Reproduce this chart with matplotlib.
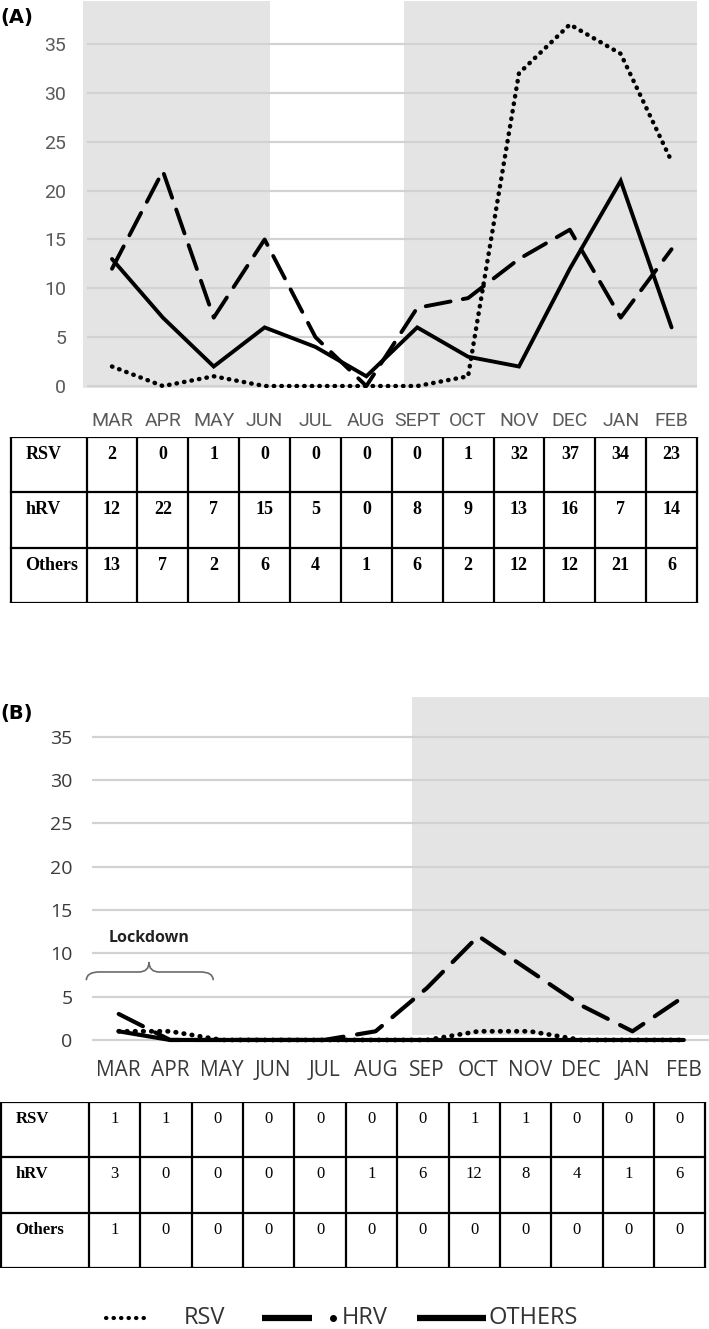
import numpy as np
import matplotlib.pyplot as plt
from matplotlib.path import Path
from matplotlib.patches import PathPatch

# ---- data -------------------------------------------------------------
months_a = ['MAR', 'APR', 'MAY', 'JUN', 'JUL', 'AUG', 'SEPT', 'OCT', 'NOV', 'DEC', 'JAN', 'FEB']
months_b = ['MAR', 'APR', 'MAY', 'JUN', 'JUL', 'AUG', 'SEP', 'OCT', 'NOV', 'DEC', 'JAN', 'FEB']
row_names = ['RSV', 'hRV', 'Others']

# panel A, table values
rsv_a = [2, 0, 1, 0, 0, 0, 0, 1, 32, 37, 34, 23]
hrv_a = [12, 22, 7, 15, 5, 0, 8, 9, 13, 16, 7, 14]
others_a = [13, 7, 2, 6, 4, 1, 6, 2, 12, 12, 21, 6]
# panel A, "Others" as drawn in the chart (differs from the table)
others_a_line = [13, 7, 2, 6, 4, 1, 6, 3, 2, 12, 21, 6]

# panel B, table values
rsv_b = [1, 1, 0, 0, 0, 0, 0, 1, 1, 0, 0, 0]
hrv_b = [3, 0, 0, 0, 0, 1, 6, 12, 8, 4, 1, 6]
others_b = [1, 0, 0, 0, 0, 0, 0, 0, 0, 0, 0, 0]
# panel B, hRV as drawn in the chart
hrv_b_line = [3, 0, 0, 0, 0, 1, 6, 12, 8, 4, 1, 5]

yticks = [0, 5, 10, 15, 20, 25, 30, 35]

# ---- figure -----------------------------------------------------------
W, H = 709, 1329
fig = plt.figure(figsize=(W / 100, H / 100), dpi=100)

GRAY_BAND = '#e4e4e4'
GRID = '#d2d2d2'
TICK = '#5a5a5a'
DOTS = (0, (0.1, 1.6))


def fig_ax(left, top, right, bottom):
    # axes from pixel box
    return fig.add_axes([left / W, 1 - bottom / H, (right - left) / W, (bottom - top) / H])


def style_lines(ax, x, rsv, hrv, oth, lw, dash):
    ax.plot(x, rsv, color='black', lw=lw * 1.15, linestyle=DOTS,
            dash_capstyle='round', zorder=4)
    ax.plot(x, hrv, color='black', lw=lw, linestyle=(0, dash), dash_capstyle='round', zorder=5)
    ax.plot(x, oth, color='black', lw=lw, solid_capstyle='round', solid_joinstyle='miter', zorder=6)


def draw_table(tax, values, offset, bold_vals, fs):
    n = len(values[0])
    edges = np.arange(n + 1) - 0.5 + offset
    for e in edges:
        tax.plot([e, e], [0, 3], color='black', lw=1.6, solid_capstyle='butt')
    tax.plot([tax.table_left, tax.table_left], [0, 3], color='black', lw=1.6)
    for r in range(4):
        tax.plot([tax.table_left, edges[-1]], [r, r], color='black', lw=1.6)
    for r, (name, row) in enumerate(zip(row_names, values)):
        tax.text(tax.table_left + 0.28, r + 0.16, name, ha='left', va='top',
                 family='Liberation Serif', fontweight='bold', fontsize=fs)
        for i, v in enumerate(row):
            tax.text(i + offset, r + 0.16, str(v), ha='center', va='top',
                     family='Liberation Serif', fontsize=fs,
                     fontweight='bold' if bold_vals else 'normal')


# ---- panel A ------------------------------------------------------------
xa = np.arange(len(months_a))
axA = fig_ax(83, 1, 697, 388)
axA.set_xlim(-0.57, 11.5)
axA.set_ylim(-0.2, 39.4)
axA.axvspan(-0.57, 3.1, color=GRAY_BAND, lw=0, zorder=0)
axA.axvspan(5.75, 11.5, color=GRAY_BAND, lw=0, zorder=0)
axA.hlines(yticks, -0.5, 11.5, color=GRID, lw=1.6, zorder=1)
style_lines(axA, xa, rsv_a, hrv_a, others_a_line, 2.8, (6.5, 3.2))
axA.set_xticks(xa)
axA.set_xticklabels(months_a, family='Roboto', fontsize=14, color=TICK)
axA.set_yticks(yticks)
axA.set_yticklabels([str(t) for t in yticks], family='Roboto', fontsize=14, color=TICK)
axA.tick_params(length=0)
axA.tick_params(axis='x', pad=17)
axA.tick_params(axis='y', pad=12)
for s in axA.spines.values():
    s.set_visible(False)
axA.patch.set_alpha(0)

# table A: same x scale as panel A
pxA = (697 - 83) / (11.5 + 0.57)
tA = fig_ax(0, 437, W, 603)
tA.set_xlim(-0.57 - 83 / pxA, -0.57 + (W - 83) / pxA)
tA.set_ylim(3, 0)
tA.table_left = -0.57 + (11 - 83) / pxA
tA.axis('off')
draw_table(tA, [rsv_a, hrv_a, others_a], 0.0, True, 13)

fig.text(0 / W, 1 - 18 / H, '(A)', fontsize=14, fontweight='bold', va='center', ha='left')

# ---- panel B ------------------------------------------------------------
xb = np.arange(len(months_b))
axB = fig_ax(92, 697, W, 1043)
axB.set_xlim(-0.52, 11.49)
axB.set_ylim(-0.35, 39.6)
axB.axvspan(5.71, 11.49, ymin=(0.6 + 0.35) / 39.95, ymax=1, color=GRAY_BAND, lw=0, zorder=0)
axB.hlines(yticks, -0.52, 11.49, color=GRID, lw=1.6, zorder=1)
style_lines(axB, xb, rsv_b, hrv_b_line, others_b, 3.0, (6.5, 3.3))
axB.set_xticks(xb)
axB.set_xticklabels(months_b, family='Open Sans', fontsize=15, color='#3a3a3a')
axB.set_yticks(yticks)
axB.set_yticklabels([str(t) for t in yticks], family='Open Sans', fontsize=14, color='#3a3a3a')
axB.tick_params(length=0)
axB.tick_params(axis='x', pad=12)
axB.tick_params(axis='y', pad=14)
for s in axB.spines.values():
    s.set_visible(False)
axB.patch.set_alpha(0)

# lockdown brace
bx0, bx1, bxm = -0.63, 1.84, 0.59
by_end, by_mid, by_tip = 6.9, 7.85, 9.0
verts = [(bx0, by_end), (bx0, by_mid), (bx0 + 0.25, by_mid), (bx0 + 0.25, by_mid),
         (bxm - 0.2, by_mid), (bxm - 0.2, by_mid),
         (bxm, by_mid), (bxm, by_tip),
         (bxm, by_mid), (bxm + 0.2, by_mid),
         (bx1 - 0.25, by_mid),
         (bx1, by_mid), (bx1, by_end)]
codes = [Path.MOVETO, Path.CURVE3, Path.CURVE3, Path.LINETO,
         Path.LINETO, Path.LINETO,
         Path.CURVE3, Path.CURVE3,
         Path.CURVE3, Path.CURVE3,
         Path.LINETO,
         Path.CURVE3, Path.CURVE3]
axB.add_patch(PathPatch(Path(verts, codes), fill=False, edgecolor='#6a6a6a', lw=1.2,
                        clip_on=False, zorder=3))
axB.text(bxm, 11.8, 'Lockdown', family='Open Sans', fontweight='bold', fontsize=11.5,
         ha='center', va='center', color='#222222')

# table B
pxB = (W - 92) / (11.49 + 0.52)
tB = fig_ax(0, 1102, W, 1268)
tB.set_xlim(-0.52 - 92 / pxB, -0.52 + (W - 92) / pxB)
tB.set_ylim(3, 0)
tB.table_left = -0.52 - 91 / pxB
tB.axis('off')
draw_table(tB, [rsv_b, hrv_b, others_b], -0.08, False, 12)

fig.text(0 / W, 1 - 713 / H, '(B)', fontsize=14, fontweight='bold', va='center', ha='left')

# ---- legend ------------------------------------------------------------
lg = fig_ax(0, 1295, W, 1329)
lg.set_xlim(0, W)
lg.set_ylim(1, 0)
lg.axis('off')
ly = 0.68
lg.plot([106, 150], [ly, ly], color='black', lw=3.0, linestyle=(0, (0.1, 1.7)), dash_capstyle='round')
lg.text(184, ly, 'RSV', fontsize=17, va='center', ha='left', color='#333333', family='Open Sans')
lg.plot([262, 312], [ly, ly], color='black', lw=4.5, solid_capstyle='butt')
lg.plot([333], [ly], marker='o', ms=4, color='black')
lg.text(342, ly, 'HRV', fontsize=17, va='center', ha='left', color='#333333', family='Open Sans')
lg.plot([417, 486], [ly, ly], color='black', lw=4.5, solid_capstyle='butt')
lg.text(489, ly, 'OTHERS', fontsize=17, va='center', ha='left', color='#333333', family='Open Sans')

fig.savefig('out.png', dpi=100)
